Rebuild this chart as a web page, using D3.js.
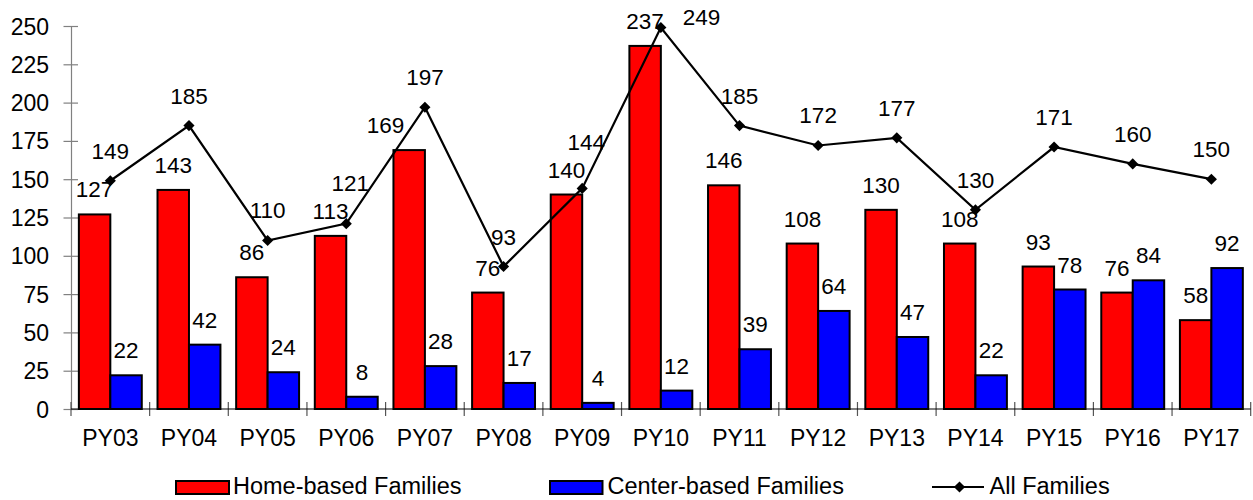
<!DOCTYPE html>
<html>
<head>
<meta charset="utf-8">
<script src="https://cdn.jsdelivr.net/npm/d3@7"></script>
<style>
  html, body { margin: 0; padding: 0; background: #fff; }
  svg { display: block; font-family: "Liberation Sans", Arial, sans-serif; }
</style>
</head>
<body>
<svg id="chart" width="1253" height="500"></svg>
<script>
const categories = ["PY03","PY04","PY05","PY06","PY07","PY08","PY09","PY10","PY11","PY12","PY13","PY14","PY15","PY16","PY17"];
const homeBased  = [127,143,86,113,169,76,140,237,146,108,130,108,93,76,58];
const centerBased = [22,42,24,8,28,17,4,12,39,64,47,22,78,84,92];
const allFamilies = [149,185,110,121,197,93,144,249,185,172,177,130,171,160,150];
const yTicks = [0,25,50,75,100,125,150,175,200,225,250];
const seriesNames = ["Home-based Families","Center-based Families","All Families"];

(function () {
const svg = d3.select("#chart");
const pLeft = 71, pRight = 1250.7, pTop = 26, pBottom = 409;

const x = d3.scaleBand().domain(categories).range([pLeft, pRight]).paddingInner(0).paddingOuter(0);
const xs = d3.scaleBand().domain(["home","center"]).range([0, x.bandwidth()]).paddingInner(0).paddingOuter(0.25);
const y = d3.scaleLinear().domain([0, 250]).range([pBottom, pTop]);

// Y axis
const yAxis = d3.axisLeft(y).tickValues(yTicks).tickSize(0).tickFormat(d3.format("d"));
const gy = svg.append("g").attr("transform", `translate(${pLeft},0)`).call(yAxis);
gy.select(".domain").attr("stroke", "#808080").attr("stroke-width", 1.2);
gy.selectAll(".tick text").remove();
gy.selectAll(".tick").append("line").attr("x1", -7.5).attr("x2", 7).attr("stroke", "#808080").attr("stroke-width", 1.2);
gy.selectAll(".tick").append("text")
  .attr("x", -22).attr("y", 8).attr("text-anchor", "end")
  .attr("fill", "#000").style("font-size", "23px")
  .text(d => d);

// X axis
const xAxis = d3.axisBottom(x).tickSize(0);
const gx = svg.append("g").attr("transform", `translate(0,${pBottom})`).call(xAxis);
gx.select(".domain").remove();
gx.selectAll(".tick text").remove();
gx.selectAll(".tick").append("text")
  .attr("y", 36.7).attr("text-anchor", "middle")
  .attr("fill", "#000").style("font-size", "23px")
  .text(d => d);
const boundaries = categories.map(c => x(c)).concat([x(categories[categories.length-1]) + x.bandwidth()]);
svg.append("g").selectAll("line").data(boundaries).join("line")
  .attr("x1", d => d).attr("x2", d => d).attr("y1", pBottom - 7).attr("y2", pBottom + 7)
  .attr("stroke", "#555").attr("stroke-width", 1.2);

// Bars
const bars = svg.append("g");
bars.selectAll("rect.home").data(categories).join("rect").attr("class","home")
  .attr("x", (c) => x(c) + xs("home"))
  .attr("y", (c,i) => y(homeBased[i]))
  .attr("width", xs.bandwidth())
  .attr("height", (c,i) => y(0) - y(homeBased[i]))
  .attr("fill", "#ff0000").attr("stroke", "#000").attr("stroke-width", 2);
bars.selectAll("rect.center").data(categories).join("rect").attr("class","center")
  .attr("x", (c) => x(c) + xs("center"))
  .attr("y", (c,i) => y(centerBased[i]))
  .attr("width", xs.bandwidth())
  .attr("height", (c,i) => y(0) - y(centerBased[i]))
  .attr("fill", "#0000ff").attr("stroke", "#000").attr("stroke-width", 2);

svg.append("line").attr("x1", pLeft).attr("x2", pRight).attr("y1", pBottom).attr("y2", pBottom)
  .attr("stroke", "#000").attr("stroke-width", 1.2);

// Line
const cx = c => x(c) + x.bandwidth() / 2;
const pts = allFamilies.map((d,i) => [cx(categories[i]), y(d)]);
const line = d3.line().x((d,i) => cx(categories[i])).y(d => y(d));
svg.append("path").datum(allFamilies).attr("d", line)
  .attr("fill", "none").attr("stroke", "#000").attr("stroke-width", 2.2);
const diamond = d3.symbol().type(d3.symbolSquare).size(62);
svg.append("g").selectAll("path").data(allFamilies).join("path")
  .attr("d", diamond)
  .attr("transform", (d,i) => `translate(${cx(categories[i])},${y(d)}) rotate(45)`)
  .attr("fill", "#000");

// Labels
const CAP = 16;
const lbl = svg.append("g").style("font-size", "22.5px").attr("fill", "#000");
function boxOf(node) {
  const b = node.getBBox();
  const base = +node.getAttribute("y");
  return { x0: b.x, x1: b.x + b.width, y0: base - CAP, y1: base };
}
function overlap(a, b, pad) {
  return a.x0 < b.x1 + pad && b.x0 < a.x1 + pad && a.y0 < b.y1 + pad && b.y0 < a.y1 + pad;
}
function lineHits(bx, inset) {
  const r = { x0: bx.x0 + inset, x1: bx.x1 - inset, y0: bx.y0 + inset, y1: bx.y1 - inset };
  for (let k = 0; k < pts.length - 1; k++) {
    const [ax, ay] = pts[k], [bx2, by2] = pts[k+1];
    const n = Math.ceil(Math.hypot(bx2 - ax, by2 - ay) * 2);
    for (let s = 0; s <= n; s++) {
      const px = ax + (bx2 - ax) * s / n, py = ay + (by2 - ay) * s / n;
      if (px > r.x0 && px < r.x1 && py > r.y0 && py < r.y1) return true;
    }
  }
  return false;
}

const barLabels = [];
const hl = lbl.selectAll("text.h").data(homeBased).join("text").attr("class","h")
  .attr("x", (d,i) => x(categories[i]) + xs("home") + xs.bandwidth()/2)
  .attr("y", d => y(d) - 17).attr("text-anchor", "middle").text(d => d);
const cl = lbl.selectAll("text.c").data(centerBased).join("text").attr("class","c")
  .attr("x", (d,i) => x(categories[i]) + xs("center") + xs.bandwidth()/2)
  .attr("y", d => y(d) - 17).attr("text-anchor", "middle").text(d => d);
// shift bar labels that the line runs through
hl.merge(cl).each(function() {
  const bx = boxOf(this);
  if (lineHits(bx, 3)) {
    d3.select(this).attr("x", +this.getAttribute("x") - xs.bandwidth() * 0.75);
  }
  barLabels.push(boxOf(this));
});

lbl.selectAll("text.a").data(allFamilies).join("text").attr("class","a")
  .each(function(d,i) {
    const [px, py] = pts[i];
    const t = d3.select(this).text(d);
    const by = py - 22;
    if (by - CAP < 4) {
      t.attr("x", px + 22).attr("y", py - 2.5).attr("text-anchor", "start");
      return;
    }
    t.attr("x", px).attr("y", by).attr("text-anchor", "middle");
    const mine = boxOf(this);
    const hit = barLabels.find(b => overlap(mine, b, 3));
    if (hit) {
      t.attr("x", px + 4).attr("y", hit.y0 - 12);
    }
  });

// Legend
const leg = svg.append("g").style("font-size", "23.5px");
leg.append("rect").attr("x", 176).attr("y", 481).attr("width", 53).attr("height", 13)
  .attr("fill", "#ff0000").attr("stroke", "#000").attr("stroke-width", 2);
leg.append("text").attr("x", 233).attr("y", 494.3).text(seriesNames[0]);
leg.append("rect").attr("x", 550).attr("y", 481).attr("width", 52.5).attr("height", 13)
  .attr("fill", "#0000ff").attr("stroke", "#000").attr("stroke-width", 2);
leg.append("text").attr("x", 607.5).attr("y", 494.3).text(seriesNames[1]);
leg.append("line").attr("x1", 932).attr("x2", 984).attr("y1", 487).attr("y2", 487)
  .attr("stroke", "#000").attr("stroke-width", 2.2);
leg.append("path").attr("d", diamond).attr("transform", "translate(959.5,487) rotate(45)").attr("fill", "#000");
leg.append("text").attr("x", 989.5).attr("y", 494.3).text(seriesNames[2]);
})();
</script>
</body>
</html>
